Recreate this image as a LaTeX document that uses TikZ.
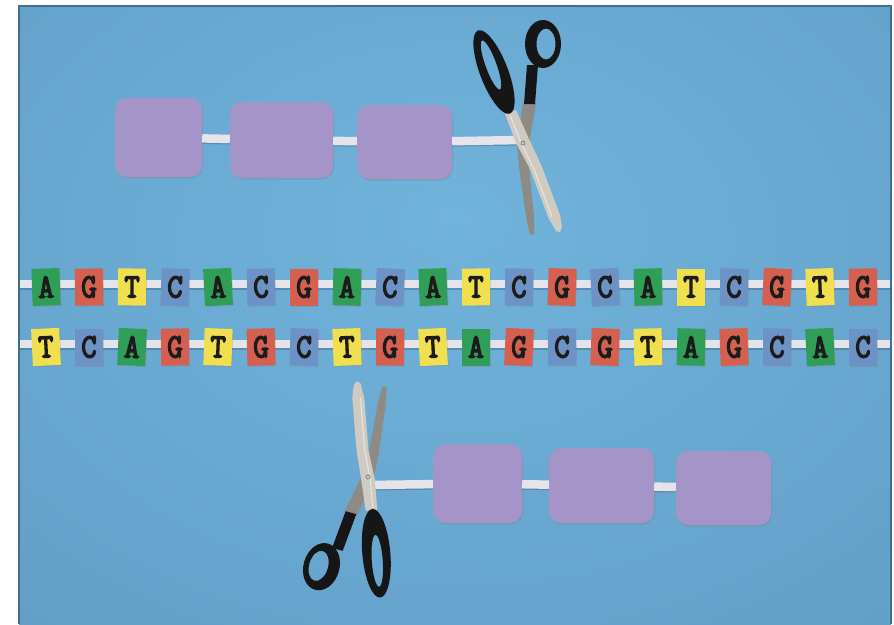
\documentclass[tikz,border=0pt]{standalone}
\usepackage{fontspec}
\usepackage{graphicx}
\usetikzlibrary{shadows}
\newfontfamily\tilefont{Latin Modern Mono}[FakeBold=4.5]

\definecolor{baseA}{HTML}{2F9F57}
\definecolor{baseG}{HTML}{D5604F}
\definecolor{baseT}{HTML}{F0DF4E}
\definecolor{baseC}{HTML}{6D93C6}
\definecolor{ink}{HTML}{1C1C1C}
\definecolor{felt}{HTML}{A494C8}
\definecolor{linkerc}{HTML}{E6E4EB}
\definecolor{bgin}{HTML}{70B3DB}
\definecolor{bgmid}{HTML}{66A4CD}
\definecolor{bgout}{HTML}{5688AC}
\definecolor{edgec}{HTML}{41708F}
\definecolor{gripc}{HTML}{161616}
\definecolor{bladefront}{HTML}{CFCBC0}
\definecolor{bladeback}{HTML}{8E8B85}

\pgfdeclareradialshading{panelglow}{\pgfpoint{0bp}{8bp}}{%
  color(0bp)=(bgin); color(30bp)=(bgmid); color(74bp)=(bgout)}

\newcommand\tilechar[1]{\scalebox{1.15}[1.3]{#1}}

\tikzset{
  tile/.style={fill=base#1, minimum width=28pt, minimum height=37pt,
    inner sep=0pt, text=ink,
    font=\tilefont\fontsize{26}{26}\selectfont,
    drop shadow={shadow xshift=0.8pt, shadow yshift=-1pt, opacity=0.3}},
  protein/.style={fill=felt, rounded corners=12pt, inner sep=0pt,
    drop shadow={shadow xshift=1pt, shadow yshift=-1.5pt, opacity=0.3}},
  backbone/.style={draw=linkerc, line width=8pt},
  backshade/.style={draw=black, opacity=0.18, line width=8pt,
    transform canvas={yshift=-1.5pt}},
  pics/shears/.style={code={
    % rear blade
    \fill[bladeback] (0,-40) -- (-6,0) -- (-4,24) -- (3,74) -- (7,92)
      -- (11,91) -- (11,74) -- (6,24) -- (7,-5) -- (13,-40) -- cycle;
    % round finger loop with its shank
    \fill[gripc, even odd rule] (20,-99) ellipse[x radius=18, y radius=24]
      (23,-99) ellipse[x radius=9.5, y radius=15.5];
    \fill[gripc] (4,-78) -- (15,-78) -- (12,-39) -- (1,-39) -- cycle;
    % front blade
    \fill[bladefront] (-18,-29) -- (-7,0) -- (7,26) -- (25,74) -- (33,88)
      -- (37,89) -- (39,84) -- (37,72) -- (19,24) -- (6,-4) -- (-7,-33) -- cycle;
    \draw[white, opacity=0.55, line width=1pt] (-13,-28) -- (-2,0) -- (11,26) -- (29,74);
    % long finger loop
    \fill[gripc, even odd rule] (-29,-71) ellipse[x radius=14, y radius=44.5, rotate=21]
      (-32,-78) ellipse[x radius=5.5, y radius=26, rotate=20];
    % pivot screw
    \draw[gray, line width=0.8pt] (0,0) circle[radius=2];
  }}
}

\begin{document}
\begin{tikzpicture}[x=1pt, y=-1pt]
\useasboundingbox (0,0) rectangle (894,624);

\begin{scope}
\clip (19,6) rectangle (891,624);
\shade[shading=panelglow] (19,6) rectangle (891,624);

% upper protein chain
\node[protein, minimum width=87pt, minimum height=79pt] (p1) at (158.5,137.5) {};
\node[protein, minimum width=103pt, minimum height=76pt] (p2) at (281.5,140) {};
\node[protein, minimum width=95pt, minimum height=74pt] (p3) at (404.5,142) {};
\coordinate (cutT) at (522,140);
\draw[backshade] (p1) -- (p2) (p2) -- (p3) (p3) -- (cutT);
\draw[backbone, line width=8.5pt] (p1) -- (p2) (p2) -- (p3) (p3) -- (cutT);

% lower protein chain
\node[protein, minimum width=89pt, minimum height=79pt] (q1) at (477.5,483.5) {};
\node[protein, minimum width=105pt, minimum height=75pt] (q2) at (601.5,485.5) {};
\node[protein, minimum width=95pt, minimum height=74pt] (q3) at (723.5,488) {};
\coordinate (cutB) at (368,485);
\draw[backshade] (cutB) -- (q1) (q1) -- (q2) (q2) -- (q3);
\draw[backbone, line width=8.5pt] (cutB) -- (q1) (q1) -- (q2) (q2) -- (q3);

% the two DNA strands
\coordinate (topL) at (19,284);
\coordinate (topR) at (891,284);
\coordinate (botL) at (19,344);
\coordinate (botR) at (891,344);
\draw[backshade] (topL) -- (topR) (botL) -- (botR);
\draw[backbone] (topL) -- (topR) (botL) -- (botR);

\foreach \l [count=\i] in {A,G,T,C,A,C,G,A,C,A,T,C,G,C,A,T,C,G,T,G}{
  \node[tile=\l, rotate={mod(\i*7,9)*0.7-2.8}] (t\i) at ({46+43*(\i-1)},287) {\tilechar{\l}};
}
\foreach \l [count=\i] in {T,C,A,G,T,G,C,T,G,T,A,G,C,G,T,A,G,C,A,C}{
  \node[tile=\l, rotate={mod(\i*5+3,9)*0.7-2.8}] (b\i) at ({46+43*(\i-1)},347) {\tilechar{\l}};
}
% tiles running on past the right edge
\node[tile=A, rotate=-2] (t21) at (906,287) {};
\node[tile=T, rotate=1] (b21) at (906,347) {};

% scissors
\pic at (523,143) {shears};
\pic[rotate=164] at (368,477) {shears};
\end{scope}

\draw[edgec, line width=1.2pt] (19,624) -- (19,6) -- (891,6) -- (891,624);
\end{tikzpicture}
\end{document}
